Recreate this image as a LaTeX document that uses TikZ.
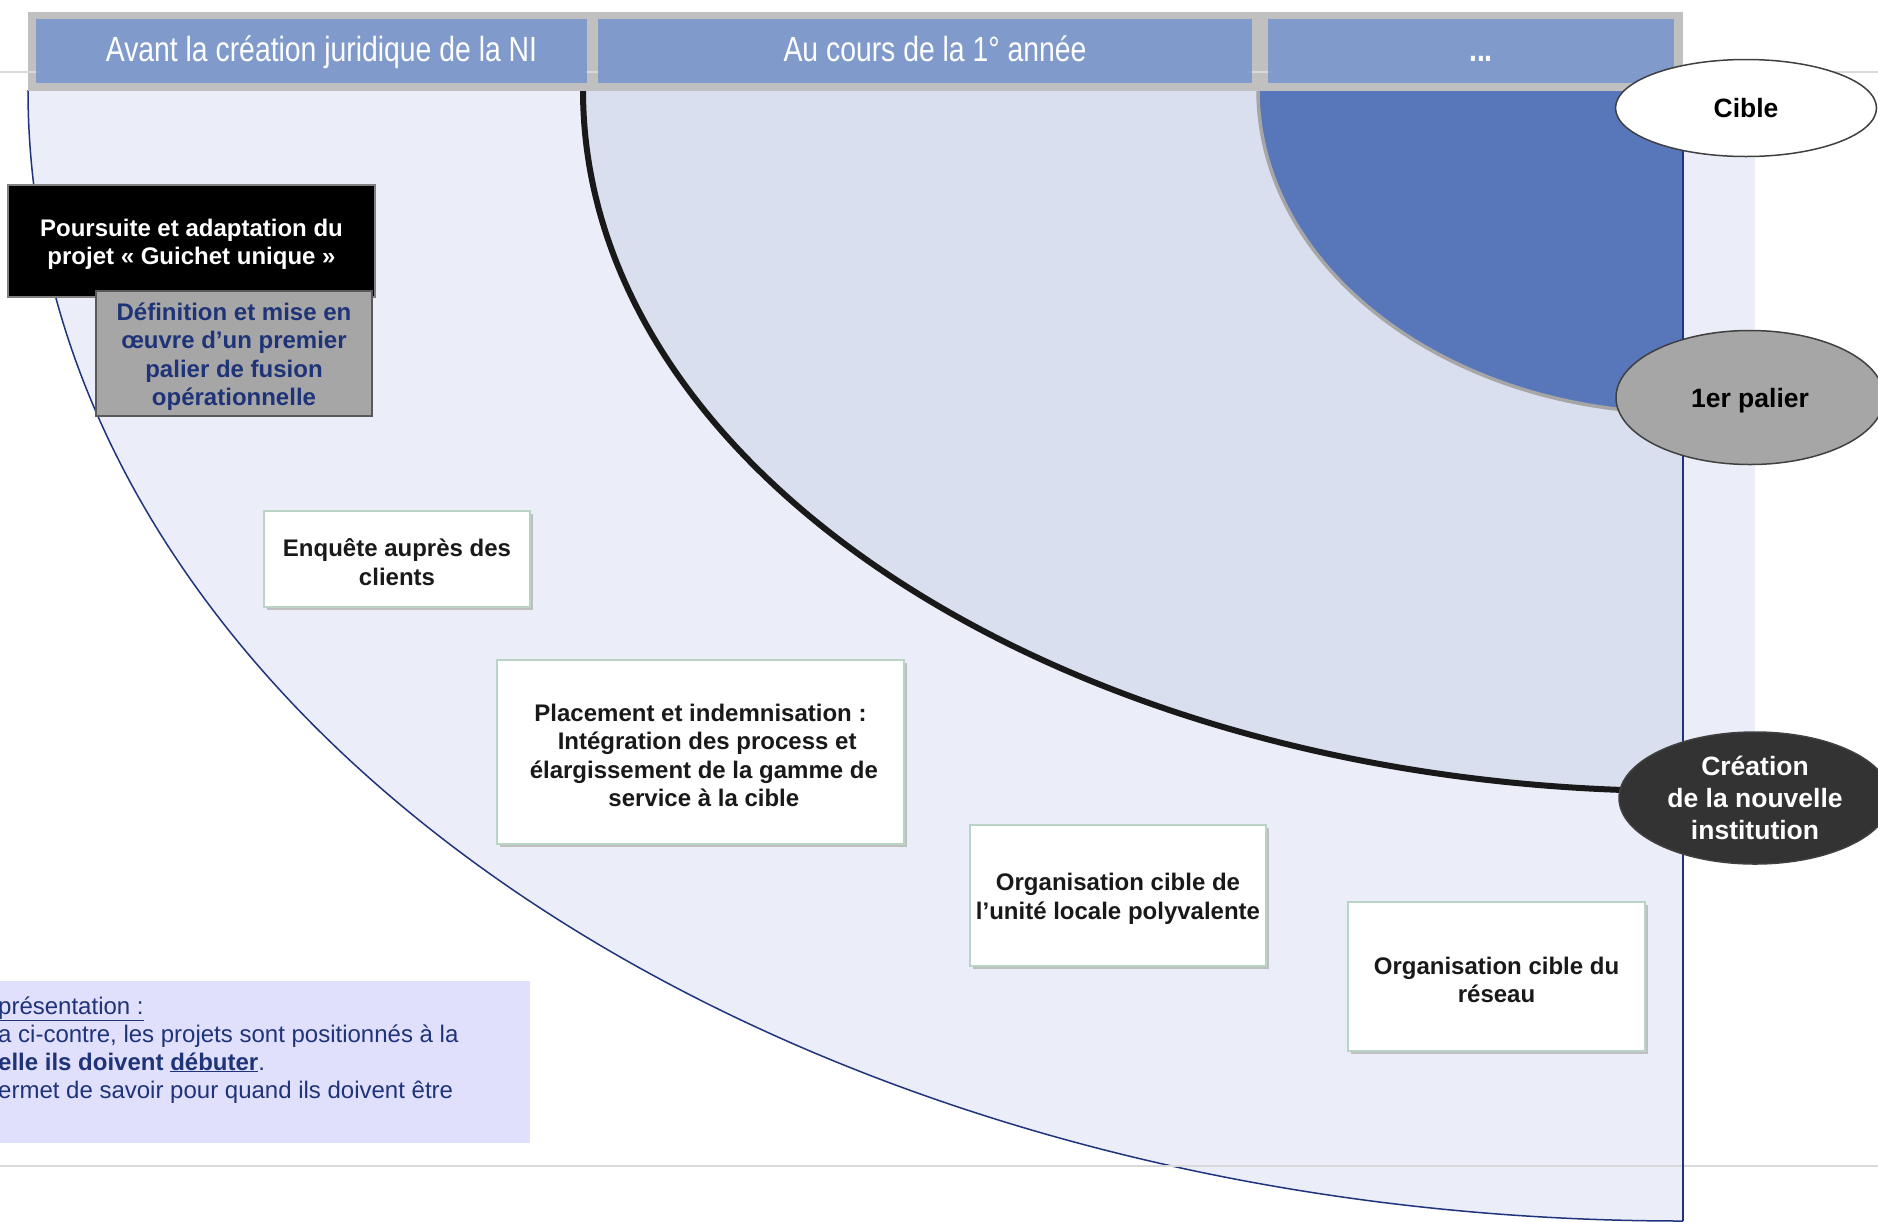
\documentclass[tikz,border=0pt]{standalone}
\usepackage{fontspec}
\setmainfont{Liberation Sans}
\newfontfamily\narrowfont[FakeStretch=0.81]{Liberation Sans}
\usetikzlibrary{shapes.geometric,shadows}

\definecolor{headblue}{RGB}{122,151,205}
\definecolor{headframe}{RGB}{192,192,192}
\definecolor{zonelight}{RGB}{235,238,248}
\definecolor{zonemid}{RGB}{218,223,240}
\definecolor{zonedark}{RGB}{88,118,186}
\definecolor{navy}{RGB}{31,52,125}
\definecolor{navytext}{RGB}{31,51,120}
\definecolor{boxline}{RGB}{185,211,196}
\definecolor{notefill}{RGB}{224,224,252}
\definecolor{rulegrey}{RGB}{217,217,217}

\newcommand{\bodysize}{\fontsize{24}{28.5}\selectfont}
\newcommand{\ovalsize}{\fontsize{26.5}{32}\selectfont}
\newcommand{\lowr}{\rule{0pt}{24pt}}
\newcommand{\hpad}{\hspace*{20pt}}

\tikzset{
	headcell/.style={fill=headblue, fill opacity=0.92, text opacity=1, text=white,
		minimum height=64pt, inner sep=0pt, text height=27pt, text depth=7pt,
		font=\narrowfont\fontsize{35}{40}\selectfont},
	projbox/.style={draw=boxline, line width=2pt, fill=white, align=center, inner sep=0pt,
		font=\bodysize\bfseries, text=black!90,
		drop shadow={shadow xshift=3pt, shadow yshift=-3pt, fill=black!25, opacity=1}},
	milestone/.style={ellipse, draw=black!75, line width=1.5pt, minimum width=261pt,
		align=center, inner sep=0pt, font=\ovalsize\bfseries}
}

\begin{document}
\begin{tikzpicture}[x=1pt,y=-1pt]
	\clip (0,0) rectangle (1878,1221);
	\fill[white] (0,0) rectangle (1878,1221);
	% zones
	\fill[zonelight] (1683,90) rectangle (1755,797);
	\fill[zonelight] (1683,90) -- (28,90) .. controls (28,714.6) and (769,1221) .. (1683,1221) -- cycle;
	\draw[navy, line width=1.5pt] (28,90) .. controls (28,714.6) and (769,1221) .. (1683,1221);
	\fill[zonemid] (1683,90) -- (583,90) .. controls (583,477.2) and (1075.5,791) .. (1683,791) -- cycle;
	\draw[black!90, line width=6pt] (583,90) .. controls (583,477.2) and (1075.5,791) .. (1683,791);
	\fill[zonedark] (1683,90) -- (1258,90) .. controls (1258,268.4) and (1448.3,413) .. (1683,413) -- cycle;
	\draw[black!35, line width=3.5pt] (1258,90) .. controls (1258,268.4) and (1448.3,413) .. (1683,413);
	% header
	\fill[headframe] (28,12) rectangle (1683,91);
	\foreach \y in {72,1166}
		\draw[rulegrey, line width=2pt] (0,\y) -- (1878,\y);
	\draw[navy, line width=2pt] (1683,91) -- (1683,1221);
	\node[headcell, minimum width=551pt] (before) at (311.5,51) {\hpad Avant la création juridique de la NI};
	\node[headcell, minimum width=654pt] (year1) at (925,51) {\hpad Au cours de la 1° année};
	\node[headcell, minimum width=406pt] (later) at (1471,51) {\hpad\textbf{...}};
	% projects
	\node[fill=black, draw=black!50, line width=2pt, text=white, minimum width=367pt, minimum height=112pt,
		align=center, font=\bodysize\bfseries] (guichet) at (191.5,241) {\lowr Poursuite et adaptation du\\projet « Guichet unique »};
	\node[fill=black!35, draw=black!65, line width=2pt, text=navytext, minimum width=276pt, minimum height=125pt,
		align=center, font=\bodysize\bfseries] (fusion) at (234,353.5) {\lowr Définition et mise en\\œuvre d’un premier\\palier de fusion\\opérationnelle};
	\node[projbox, minimum width=266pt, minimum height=96pt] (enquete) at (397,559) {\lowr Enquête auprès des\\clients};
	\node[projbox, minimum width=407pt, minimum height=184pt] (placement) at (700.5,752) {\lowr Placement et indemnisation :\\~~Intégration des process et\\~élargissement de la gamme de\\~service à la cible};
	\node[projbox, minimum width=296pt, minimum height=141pt] (unite) at (1118,895.5) {\lowr Organisation cible de\\l’unité locale polyvalente};
	\node[projbox, minimum width=297pt, minimum height=149pt] (reseau) at (1496.5,976.5) {\lowr Organisation cible du\\réseau};
	% milestones
	\node[milestone, fill=white, minimum height=97pt] (cible) at (1746,108) {Cible};
	\node[milestone, fill=black!35, minimum width=268pt, minimum height=134pt] (palier) at (1750,397.5) {\rule{0pt}{25pt}1er palier};
	\node[milestone, fill=black!80, text=white, minimum width=272pt, minimum height=132pt] (creation) at (1755,798) {Création\\de la nouvelle\\institution};
	% note
	\fill[notefill] (0,981) rectangle (530,1143);
	\node[anchor=base west, inner sep=0pt, align=left, text=navytext, font=\fontsize{24}{28}\selectfont] (note) at (-2,1098)
		{\underline{présentation :}\\a ci-contre, les projets sont positionnés à la\\\textbf{elle ils doivent \underline{débuter}}.\\ermet de savoir pour quand ils doivent être};
\end{tikzpicture}
\end{document}
